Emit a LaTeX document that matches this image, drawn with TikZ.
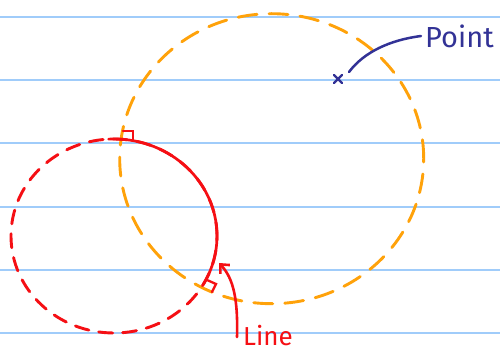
\documentclass[tikz,border=0pt]{standalone}
\usepackage{fontspec}
\setmainfont{Fira Sans}
\usetikzlibrary{arrows.meta}
\definecolor{rule}{RGB}{160,204,250}
\definecolor{orng}{RGB}{255,162,10}
\definecolor{rd}{RGB}{245,15,20}
\definecolor{ink}{RGB}{50,50,150}
\tikzset{
  ruleline/.style={rule,line width=1.8pt},
  orangecirc/.style={orng,line width=2.9pt,dash pattern=on 19pt off 12pt},
  redcirc/.style={rd,line width=2.9pt,dash pattern=on 14pt off 10pt},
  redsolid/.style={rd,line width=2.7pt},
  rmark/.style={rd,line width=2.3pt},
  lbl/.style={inner sep=0pt,font=\fontsize{29}{29}\selectfont}
}
\begin{document}
\begin{tikzpicture}[x=1pt,y=1pt,line cap=round]
\useasboundingbox (0,0) rectangle (500,351);
\fill[white] (0,0) rectangle (500,351);
% ruled lines
\foreach \yy in {334.3,271,207.7,144.3,81,17.7}
  \draw[ruleline] (0,\yy) -- (500,\yy);
% orange circle
\coordinate (oc) at (271.7,192.3);
\draw[orangecirc] (oc) ellipse[x radius=152,y radius=145];
% red circle
\coordinate (rc) at (114,115);
\draw[redcirc] (rc) ellipse[x radius=103,y radius=97];
% solid red arc
\draw[redsolid] ([shift={(93:103 and 97)}]rc) arc[start angle=93,end angle=-30,x radius=103,y radius=97];
% right-angle marks
\draw[rmark] (123,220) -- (133,220) -- (133,211);
\draw[rmark] (207,71) -- (216,67) -- (212,59);
% point
\coordinate (pt) at (338,272);
\draw[ink,line width=2.3pt] ([shift={(-4,-4)}]pt) -- ([shift={(4,4)}]pt)
                          ([shift={(-4,4)}]pt) -- ([shift={(4,-4)}]pt);
\node[lbl,text=ink,anchor=west] (ptlab) at (425,315) {Point};
\coordinate (ps) at (349,279);
\draw[ink,line width=2.5pt] (ps) .. controls (364,299) and (390,311) .. ([xshift=-4pt]ptlab.west);
% line label
\node[lbl,text=rd,anchor=base west,font=\fontsize{26}{26}\selectfont] (lnlab) at (243,6) {Line};
\coordinate (ls) at (237,14);
\coordinate (lt) at (219,88);
\draw[rd,line width=2.6pt,-{Straight Barb[length=7pt,width=13pt]}] (ls) .. controls (238,50) and (234,72) .. (lt);
\end{tikzpicture}
\end{document}
